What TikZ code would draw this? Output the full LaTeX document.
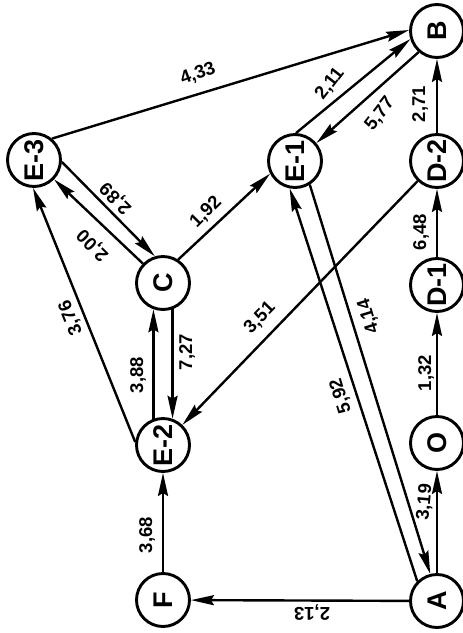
\documentclass[tikz,border=0pt]{standalone}
\usepackage{fontspec}
\setmainfont{Liberation Sans}
\usepackage{graphicx}
\usetikzlibrary{arrows.meta}
\begin{document}
\begin{tikzpicture}[x=1pt,y=-1pt,
  vtx/.style={circle,draw,line width=2.9pt,minimum size=53pt,inner sep=0pt,font=\fontsize{27}{27}\selectfont\bfseries},
  edge/.style={line width=2.4pt,-{Stealth[length=23pt,width=10pt,inset=3pt]}},
  lbl/.style={font=\fontsize{18.5}{18.5}\selectfont\bfseries,inner sep=0pt}]
\useasboundingbox (0,0) rectangle (463,633);
% vertices
\node[vtx] (B)  at (437,31)  {\rotatebox{90}{B}};
\node[vtx] (E3) at (34,160)  {\rotatebox{90}{E-3}};
\node[vtx] (E1) at (295,161) {\rotatebox{90}{E-1}};
\node[vtx] (D2) at (437,161) {\rotatebox{90}{D-2}};
\node[vtx] (C)  at (163,283) {\rotatebox{90}{C}};
\node[vtx] (D1) at (437,285) {\rotatebox{90}{D-1}};
\node[vtx] (O)  at (437,443) {\rotatebox{90}{O}};
\node[vtx] (E2) at (163,445) {\rotatebox{90}{E-2}};
\node[vtx] (F)  at (163,600) {\rotatebox{90}{F}};
\node[vtx] (A)  at (437,601) {\rotatebox{90}{A}};
% connectors
\draw[edge] (E3.50) -- (B.178);
\draw[edge] (E1.88) -- (B.197);
\draw[edge] (B.229) -- (E1.40);
\draw[edge] (D2) -- (B);
\draw[edge] (D1) -- (D2);
\draw[edge] (O) -- (D1);
\draw[edge] (A) -- (O);
\draw[edge] (A.135) -- (E1.259);
\draw[edge] (E1.302) -- (A.104);
\draw[edge] (C.57) -- (E1.207);
\draw[edge] (E3.-4) -- (C.107);
\draw[edge] (C.136) -- (E3.-44);
\draw[edge] (E2.110) -- (C.250);
\draw[edge] (C.290) -- (E2.70);
\draw[edge] (D2) -- (E2);
\draw[edge] (E2.174) -- (E3.268);
\draw[edge] (F) -- (E2);
\draw[edge] (A) -- (F);
% labels
\node[lbl,rotate=20]  (l433) at (198,74)  {4,33};
\node[lbl,rotate=52]  (l211) at (330,84)  {2,11};
\node[lbl,rotate=52]  (l577) at (380,114) {5,77};
\node[lbl,rotate=90]  (l271) at (420,104) {2,71};
\node[lbl,rotate=90]  (l648) at (421,232) {6,48};
\node[lbl,rotate=90]  (l132) at (426,373) {1,32};
\node[lbl,rotate=85]  (l319) at (425,502) {3,19};
\node[lbl,rotate=107] (l592) at (341,396) {5,92};
\node[lbl,rotate=107] (l414) at (369,316) {4,14};
\node[lbl,rotate=45]  (l192) at (206,212) {1,92};
\node[lbl,rotate=135] (l289) at (116,198) {2,89};
\node[lbl,rotate=135] (l200) at (93,245)  {2,00};
\node[lbl,rotate=112] (l376) at (71,318)  {3,76};
\node[lbl,rotate=90]  (l388) at (138,375) {3,88};
\node[lbl,rotate=90]  (l727) at (187,352) {7,27};
\node[lbl,rotate=46]  (l351) at (260,318) {3,51};
\node[lbl,rotate=90]  (l368) at (147,535) {3,68};
\node[lbl,rotate=180] (l213) at (312,613) {2,13};
\end{tikzpicture}
\end{document}
